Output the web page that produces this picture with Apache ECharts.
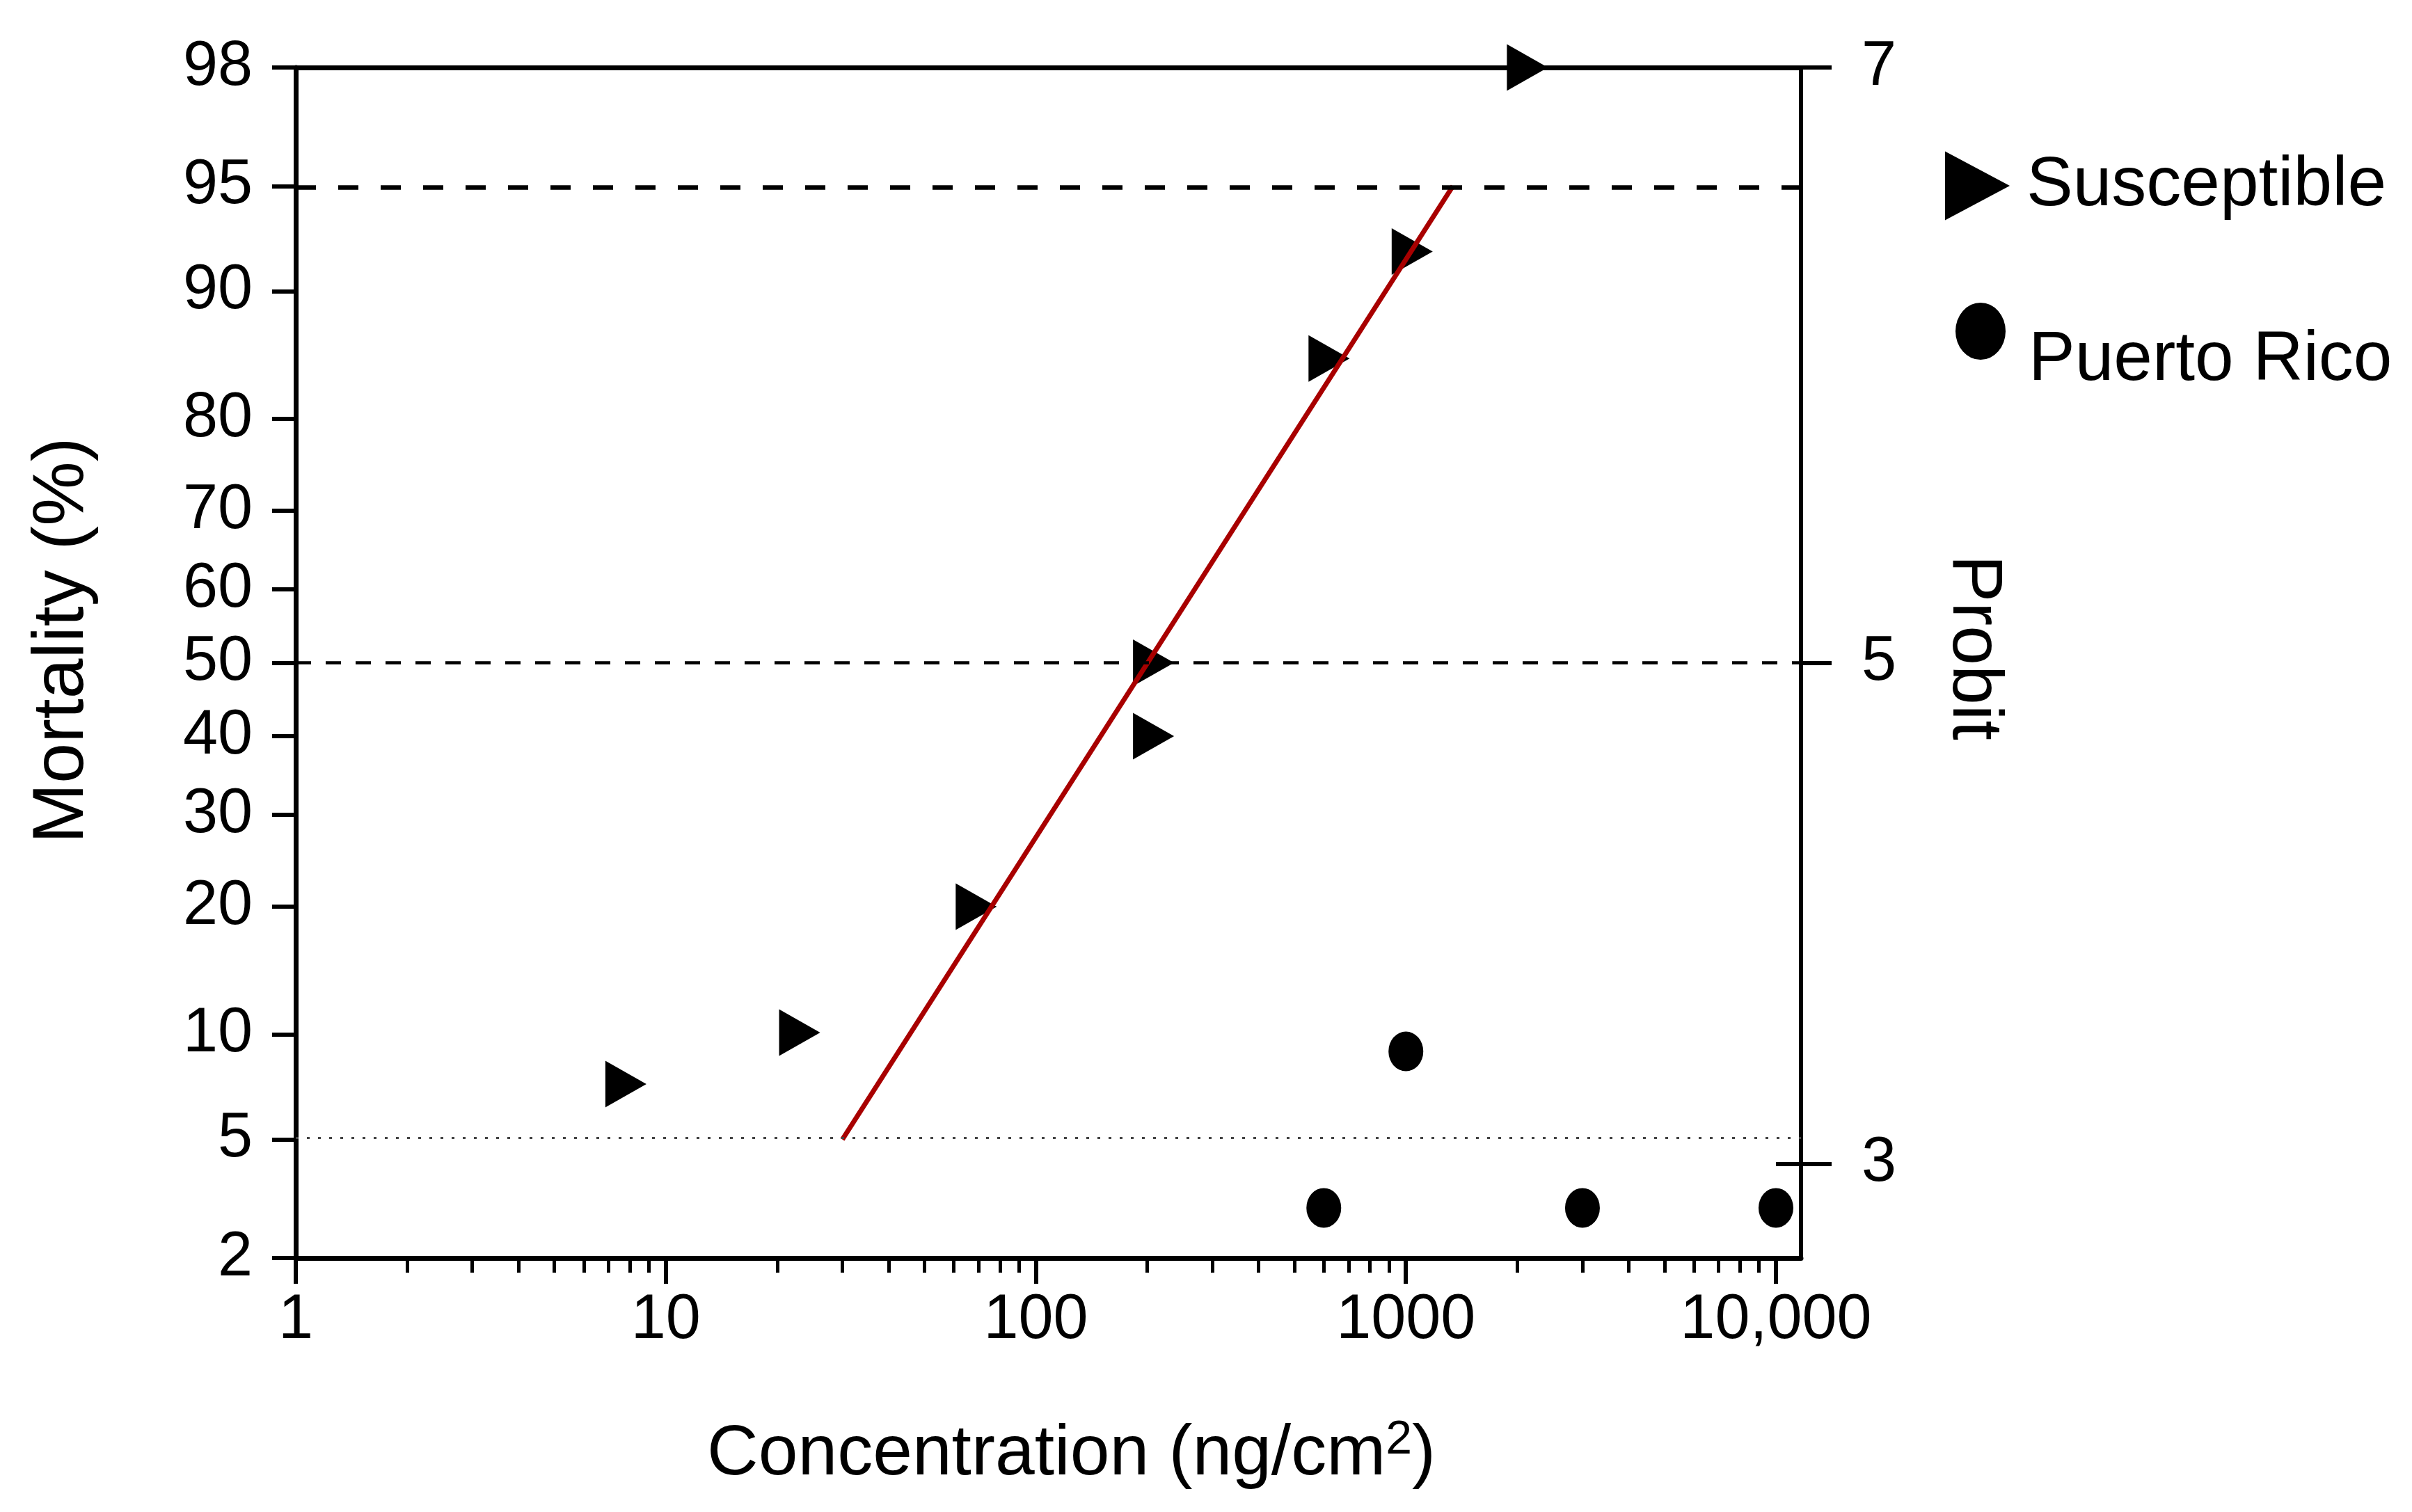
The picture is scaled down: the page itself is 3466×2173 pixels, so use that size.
<!DOCTYPE html>
<html>
<head>
<meta charset="utf-8">
<script src="https://cdn.jsdelivr.net/npm/echarts@6/dist/echarts.min.js"></script>
<style>
html,body{margin:0;padding:0;background:#ffffff;}
#chart{width:3466px;height:2173px;}
</style>
</head>
<body>
<div id="chart"></div>
<script>
// ---------------- data ----------------
const susceptibleConc = [7.8, 23, 69, 208, 208, 620, 1040, 2130];
const susceptibleMort = [7.3, 10.1, 20, 40, 50, 85.3, 92.2, 98];
const puertoRicoConc = [600, 1000, 3000, 10000];
const puertoRicoMort = [3, 9, 3, 3];
const fitConc = [30, 1340];
const fitMort = [5, 95];
const refLineMort = [95, 50, 5];

const mortalityTicks = [2, 5, 10, 20, 30, 40, 50, 60, 70, 80, 90, 95, 98];
const probitTickLabels = ['3', '5', '7'];
const probitTickMort = [4.2, 50, 98];
const concTicks = [1, 10, 100, 1000, 10000];
const concTickLabels = ['1', '10', '100', '1000', '10,000'];
const concMinorTicks = [2, 3, 4, 5, 6, 7, 8, 9,
  20, 30, 40, 50, 60, 70, 80, 90,
  200, 300, 400, 500, 600, 700, 800, 900,
  2000, 3000, 4000, 5000, 6000, 7000, 8000, 9000];
const concMin = 1, concMax = 11688;
const mortMin = 2, mortMax = 98;

// ---------------- probit scale (inverse normal CDF) ----------------
function probit(p) {
  const a = [-3.969683028665376e+01, 2.209460984245205e+02, -2.759285104469687e+02, 1.383577518672690e+02, -3.066479806614716e+01, 2.506628277459239e+00];
  const b = [-5.447609879822406e+01, 1.615858368580409e+02, -1.556989798598866e+02, 6.680131188771972e+01, -1.328068155288572e+01];
  const c = [-7.784894002430293e-03, -3.223964580411365e-01, -2.400758277161838e+00, -2.549732539343734e+00, 4.374664141464968e+00, 2.938163982698783e+00];
  const d = [7.784695709041462e-03, 3.224671290700398e-01, 2.445134137142996e+00, 3.754408661907416e+00];
  const pl = 0.02425, ph = 1 - pl;
  let q, r;
  if (p < pl) {
    q = Math.sqrt(-2 * Math.log(p));
    return (((((c[0]*q+c[1])*q+c[2])*q+c[3])*q+c[4])*q+c[5]) / ((((d[0]*q+d[1])*q+d[2])*q+d[3])*q+1);
  }
  if (p <= ph) {
    q = p - 0.5; r = q * q;
    return (((((a[0]*r+a[1])*r+a[2])*r+a[3])*r+a[4])*r+a[5])*q / (((((b[0]*r+b[1])*r+b[2])*r+b[3])*r+b[4])*r+1);
  }
  q = Math.sqrt(-2 * Math.log(1 - p));
  return -(((((c[0]*q+c[1])*q+c[2])*q+c[3])*q+c[4])*q+c[5]) / ((((d[0]*q+d[1])*q+d[2])*q+d[3])*q+1);
}
const Z = pct => probit(pct / 100);

const FONT = 'Liberation Sans, Arial, Helvetica, sans-serif';
const yMin = Z(mortMin), yMax = Z(mortMax);
const lgMax = Math.log10(concMax);

function labelFor(values, labels, v) {
  for (let i = 0; i < values.length; i++) {
    if (Math.abs(values[i] - v) < 1e-6) return labels[i];
  }
  return '';
}

const mortTickZ = mortalityTicks.map(Z);
const probitTickZ = probitTickMort.map(Z);
const concTickLg = concTicks.map(Math.log10);
const concMinorLg = concMinorTicks.map(Math.log10);

const susceptibleData = susceptibleConc.map((c, i) => [c, Z(susceptibleMort[i])]);
const puertoRicoData = puertoRicoConc.map((c, i) => [c, Z(puertoRicoMort[i])]);
const fitData = fitConc.map((c, i) => [c, Z(fitMort[i])]);

const ellipsePath = 'path://M0,50 A50,50 0 1,1 100,50 A50,50 0 1,1 0,50 Z';
const rightTrianglePath = 'path://M0,0 L100,50 L0,100 Z';

const chart = echarts.init(document.getElementById('chart'), null, {renderer: 'canvas', devicePixelRatio: 1});

const option = {
  animation: false,
  backgroundColor: '#ffffff',
  textStyle: {fontFamily: FONT, color: '#000'},
  grid: {left: 425, right: 878, top: 97, bottom: 365, outerBoundsMode: 'none', containLabel: false},
  legend: [
    {
      data: [{name: 'Susceptible', icon: rightTrianglePath}],
      left: 2795, top: 217,
      orient: 'vertical', padding: 0, itemGap: 0,
      itemWidth: 93, itemHeight: 99,
      symbolKeepAspect: false,
      selectedMode: false,
      textStyle: {fontFamily: FONT, fontSize: 100, color: '#000', padding: [0, 0, 0, 19]}
    },
    {
      data: [{name: 'Puerto Rico', icon: ellipsePath}],
      left: 2810, top: 384,
      orient: 'vertical', padding: 0, itemGap: 0,
      itemWidth: 72, itemHeight: 82,
      symbolKeepAspect: false,
      selectedMode: false,
      formatter: '\n{name}',
      textStyle: {fontFamily: FONT, fontSize: 100, lineHeight: 84, color: '#000', padding: [0, 0, 0, 28]}
    }
  ],
  xAxis: [
    { // data axis (log scale)
      type: 'log', logBase: 10, min: concMin, max: concMax,
      position: 'bottom',
      axisLine: {show: true, onZero: false, lineStyle: {color: '#000', width: 7}},
      axisTick: {show: false},
      axisLabel: {show: false},
      splitLine: {show: false},
      name: 'Concentration (ng/cm{sup|2})',
      nameLocation: 'middle',
      nameGap: 228,
      nameTextStyle: {
        fontFamily: FONT, fontSize: 102, lineHeight: 110, color: '#000',
        padding: [0, 0, 0, 66],
        rich: {sup: {fontFamily: FONT, fontSize: 68, color: '#000', verticalAlign: 'top'}}
      }
    },
    { // major ticks + labels (log10 units)
      type: 'value', min: 0, max: lgMax, position: 'bottom',
      axisLine: {show: false, onZero: false},
      axisTick: {show: true, customValues: concTickLg, length: 37, lineStyle: {color: '#000', width: 6}},
      axisLabel: {
        show: true, customValues: concTickLg, margin: 45,
        fontFamily: FONT, fontSize: 90, color: '#000',
        formatter: v => labelFor(concTickLg, concTickLabels, v)
      },
      splitLine: {show: false}
    },
    { // minor ticks
      type: 'value', min: 0, max: lgMax, position: 'bottom',
      axisLine: {show: false, onZero: false},
      axisTick: {show: true, customValues: concMinorLg, length: 21, lineStyle: {color: '#000', width: 5}},
      axisLabel: {show: false},
      splitLine: {show: false}
    },
    { // top border at 98 %
      type: 'value', min: 0, max: 1, position: 'top',
      axisLine: {show: true, onZero: false, lineStyle: {color: '#000', width: 7}},
      axisTick: {show: false}, axisLabel: {show: false}, splitLine: {show: false}
    }
  ],
  yAxis: [
    { // mortality (probit scale)
      type: 'value', min: yMin, max: yMax, position: 'left',
      axisLine: {show: true, onZero: false, lineStyle: {color: '#000', width: 7}},
      axisTick: {show: true, customValues: mortTickZ, length: 34, lineStyle: {color: '#000', width: 6}},
      axisLabel: {
        show: true, customValues: mortTickZ, margin: 62,
        fontFamily: FONT, fontSize: 90, color: '#000',
        formatter: v => labelFor(mortTickZ, mortalityTicks.map(String), v)
      },
      splitLine: {show: false},
      name: 'Mortality (%)',
      nameLocation: 'middle',
      nameGap: 283,
      nameTextStyle: {fontFamily: FONT, fontSize: 104, color: '#000', padding: [0, 0, 0, 64]}
    },
    { // probit axis on right
      type: 'value', min: yMin, max: yMax, position: 'right',
      axisLine: {show: true, onZero: false, lineStyle: {color: '#000', width: 6}},
      axisTick: {show: true, customValues: probitTickZ, length: 44, lineStyle: {color: '#000', width: 6}},
      axisLabel: {
        show: true, customValues: probitTickZ, margin: 87,
        fontFamily: FONT, fontSize: 90, color: '#000',
        formatter: v => labelFor(probitTickZ, probitTickLabels, v)
      },
      splitLine: {show: false},
      name: 'Probit',
      nameLocation: 'middle',
      nameRotate: -90,
      nameGap: 196,
      nameTextStyle: {fontFamily: FONT, fontSize: 102, color: '#000', padding: [0, 44, 0, 0]}
    },
    { // inner half of the probit-3 tick
      type: 'value', min: yMin, max: yMax, position: 'right',
      axisLine: {show: false, onZero: false},
      axisTick: {show: true, inside: true, customValues: [probitTickZ[0]], length: 36, lineStyle: {color: '#000', width: 6}},
      axisLabel: {show: false},
      splitLine: {show: false}
    }
  ],
  series: [
    {
      name: 'refLines', type: 'line', xAxisIndex: 0, yAxisIndex: 0, z: 1,
      data: [], silent: true,
      markLine: {
        silent: true, symbol: ['none', 'none'], label: {show: false},
        emphasis: {disabled: true},
        data: [
          {yAxis: Z(refLineMort[0]), lineStyle: {color: '#000', width: 6.5, type: [29, 32]}},
          {yAxis: Z(refLineMort[1]), lineStyle: {color: '#000', width: 4.5, type: [22, 21]}},
          {yAxis: Z(refLineMort[2]), lineStyle: {color: '#444', width: 3, type: [4, 12]}}
        ]
      }
    },
    {
      name: 'Susceptible', type: 'scatter', xAxisIndex: 0, yAxisIndex: 0, z: 2,
      symbol: 'triangle', symbolRotate: -90, symbolSize: [67, 59],
      itemStyle: {color: '#000', opacity: 1},
      data: susceptibleData
    },
    {
      name: 'Puerto Rico', type: 'scatter', xAxisIndex: 0, yAxisIndex: 0, z: 2,
      symbol: ellipsePath, symbolSize: [50, 57],
      itemStyle: {color: '#000', opacity: 1},
      data: puertoRicoData
    },
    {
      name: 'Probit fit', type: 'line', xAxisIndex: 0, yAxisIndex: 0, z: 3,
      symbol: 'none', silent: true,
      lineStyle: {color: '#a80000', width: 7},
      data: fitData
    }
  ]
};
chart.setOption(option);
</script>
</body>
</html>
